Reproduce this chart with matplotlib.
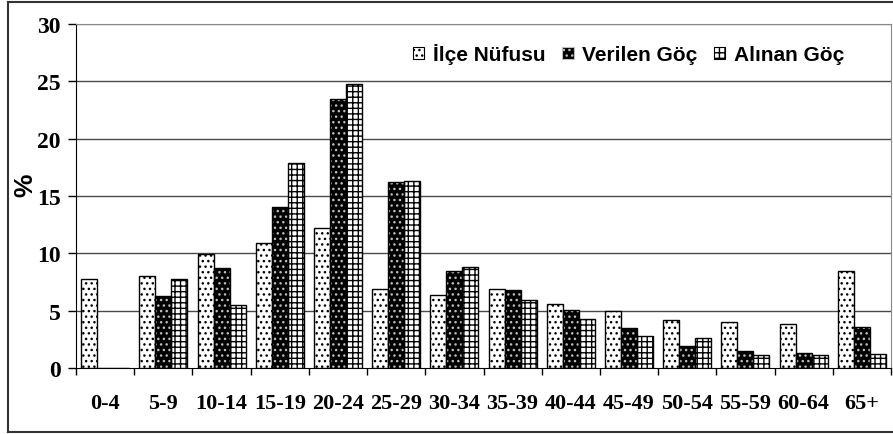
import matplotlib
matplotlib.use("Agg")
import matplotlib.pyplot as plt
import numpy as np
from matplotlib.patches import Rectangle
from matplotlib.lines import Line2D

categories = ["0-4", "5-9", "10-14", "15-19", "20-24", "25-29", "30-34",
              "35-39", "40-44", "45-49", "50-54", "55-59", "60-64", "65+"]
ilce_nufusu = [7.8, 8.0, 9.9, 10.9, 12.2, 6.9, 6.4, 6.9, 5.6, 5.0, 4.2, 4.0, 3.8, 8.5]
verilen_goc = [0.0, 6.3, 8.7, 14.0, 23.5, 16.2, 8.5, 6.8, 5.1, 3.5, 1.9, 1.5, 1.3, 3.6]
alinan_goc = [0.0, 7.8, 5.5, 17.9, 24.8, 16.3, 8.8, 5.9, 4.3, 2.8, 2.6, 1.1, 1.1, 1.2]
series_names = ["İlçe Nüfusu", "Verilen Göç", "Alınan Göç"]
yticks = [0, 5, 10, 15, 20, 25, 30]

plt.rcParams['hatch.linewidth'] = 1.0

W, H = 893, 435
fig = plt.figure(figsize=(W / 100, H / 100), dpi=100)
ax = fig.add_axes([76 / W, (H - 369) / H, (891 - 76) / W, (369 - 25) / H])

x = np.arange(len(categories))
bw = 0.275
serif = "Liberation Serif"
sans = "Liberation Sans"

# İlçe Nüfusu: white with black dots
ax.bar(x - bw, ilce_nufusu, bw, facecolor="white", edgecolor="black",
       hatch="...", linewidth=1.0, zorder=3)
# Verilen Göç: black with light dots
ax.bar(x, verilen_goc, bw, facecolor="black", edgecolor="#bdbdbd",
       hatch="...", linewidth=0, zorder=3)
ax.bar(x, verilen_goc, bw, facecolor="none", edgecolor="black",
       linewidth=1.0, zorder=4)
# Alınan Göç: white with black grid
ax.bar(x + bw, alinan_goc, bw, facecolor="white", edgecolor="black",
       hatch="+++", linewidth=1.0, zorder=3)

ax.set_xlim(-0.5, len(categories) - 0.5)
ax.set_ylim(0, 30)

ax.set_yticks(yticks)
ax.set_yticklabels([str(v) for v in yticks], fontfamily=serif,
                   fontweight="bold", fontsize=17)
ax.tick_params(axis="y", length=6, width=1, pad=5, color="black")
for v in yticks[1:]:
    ax.axhline(v, color="#4a4a4a" if v < 30 else "#888888", linewidth=1.0,
               zorder=1)

ax.set_xticks(x)
ax.set_xticklabels(categories, fontfamily=serif, fontweight="bold", fontsize=16)
ax.tick_params(axis="x", which="major", length=0, pad=18)
ax.set_xticks(np.arange(len(categories) + 1) - 0.5, minor=True)
ax.tick_params(axis="x", which="minor", length=5, width=1, color="black")

for s in ["top", "right"]:
    ax.spines[s].set_color("#888888")
ax.spines["left"].set_color("black")
ax.spines["bottom"].set_color("black")

fig.text(25 / W, 1 - 185 / H, "%", rotation=90, fontfamily=sans,
         fontweight="bold", fontsize=19, ha="center", va="center")

# Legend
handles = [
    Rectangle((0, 0), 1, 1, facecolor="white", edgecolor="black",
              hatch="...", linewidth=0.8),
    Rectangle((0, 0), 1, 1, facecolor="black", edgecolor="#bdbdbd",
              hatch="...", linewidth=0.8),
    Rectangle((0, 0), 1, 1, facecolor="white", edgecolor="black",
              hatch="+++", linewidth=0.8),
]
leg = fig.legend(handles, series_names, loc="center left",
                 bbox_to_anchor=(413 / W, 1 - 55 / H), ncol=3, frameon=False,
                 prop={"family": sans, "weight": "bold", "size": 15},
                 handlelength=0.55, handleheight=0.55, handletextpad=0.4,
                 columnspacing=0.8, borderpad=0, borderaxespad=0)

# Outer frame
fig.add_artist(Line2D([8 / W, 8 / W], [1 - 3 / H, 1 - 433 / H],
                      transform=fig.transFigure, color="#333333", lw=1.5))
fig.add_artist(Line2D([8 / W, 1], [1 - 3 / H, 1 - 3 / H],
                      transform=fig.transFigure, color="#333333", lw=1.5))
fig.add_artist(Line2D([8 / W, 1], [1 - 433 / H, 1 - 433 / H],
                      transform=fig.transFigure, color="#333333", lw=1.5))

fig.savefig("out.png", dpi=100)
